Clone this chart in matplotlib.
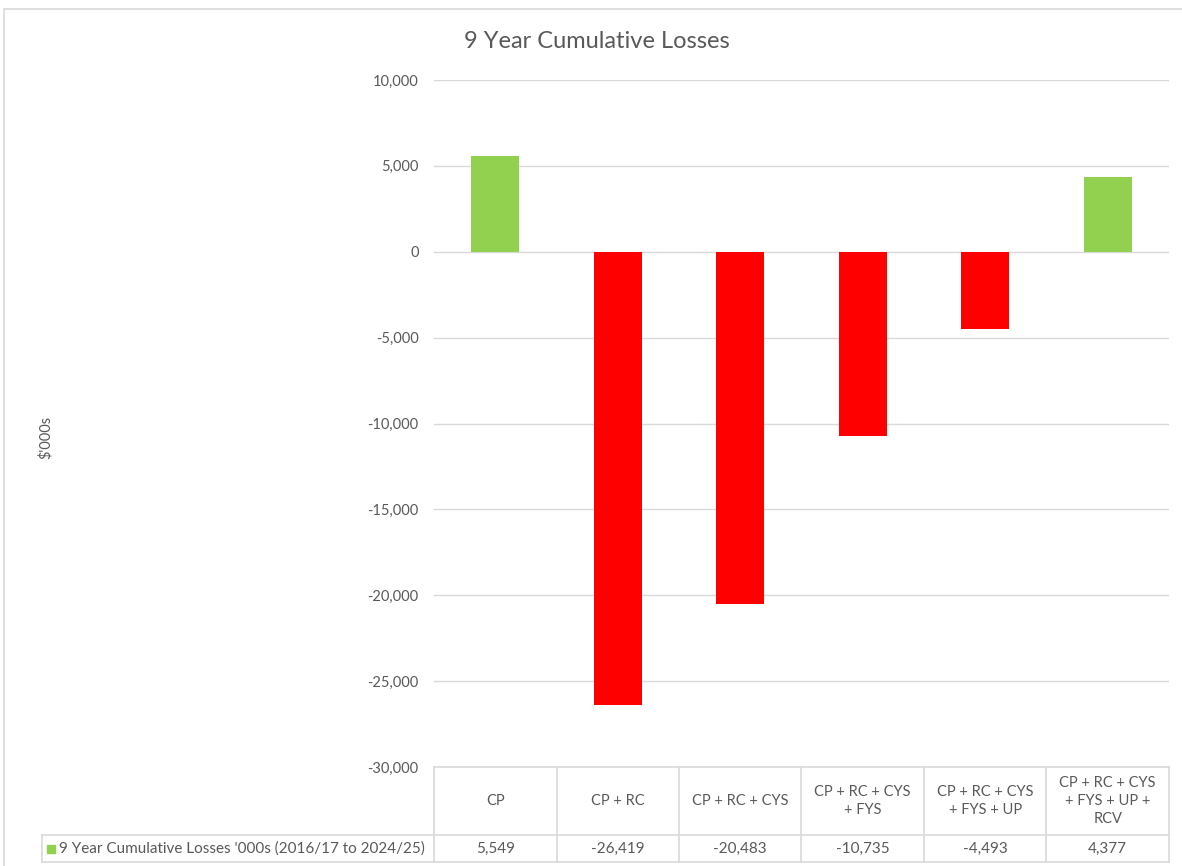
import matplotlib
matplotlib.use("Agg")
import matplotlib.pyplot as plt
import matplotlib.patches as patches
from matplotlib.lines import Line2D
from matplotlib.transforms import blended_transform_factory

# data
categories = ["CP", "CP + RC", "CP + RC + CYS", "CP + RC + CYS\n+ FYS",
              "CP + RC + CYS\n+ FYS + UP", "CP + RC + CYS\n+ FYS + UP +\nRCV"]
losses = [5549, -26419, -20483, -10735, -4493, 4377]
value_labels = ["5,549", "-26,419", "-20,483", "-10,735", "-4,493", "4,377"]
series_name = "9 Year Cumulative Losses '000s (2016/17 to 2024/25)"
yticks = [10000, 5000, 0, -5000, -10000, -15000, -20000, -25000, -30000]

plt.rcParams['font.family'] = ['Lato', 'DejaVu Sans']
txt = '#595959'
grid = '#d9d9d9'

W, H = 1182, 866
fig = plt.figure(figsize=(W/100, H/100), dpi=100)

def fx(px):
    return px / W

def fy(py):
    return 1 - py / H

# outer chart border (cropped on right/bottom)
fig.add_artist(patches.Rectangle((fx(4), fy(900)), fx(1300), fy(9) - fy(900),
                                 transform=fig.transFigure, fill=False,
                                 edgecolor='#d9d9d9', linewidth=1.2))

ax = fig.add_axes([fx(434), fy(767), fx(1169) - fx(434), fy(80) - fy(767)])

colors = ['#92D050' if v >= 0 else '#FF0000' for v in losses]
xs = list(range(len(categories)))
ax.bar(xs, losses, width=0.39, color=colors, zorder=3)

ax.set_xlim(-0.5, len(categories) - 0.5)
ax.set_ylim(-30000, 10000)
ax.set_yticks(yticks)
ax.set_yticklabels([f"{v:,}" for v in yticks])
ax.set_xticks([])
ax.tick_params(axis='y', length=0, pad=11, labelsize=10.5, labelcolor=txt)
for s in ax.spines.values():
    s.set_visible(False)
ax.grid(axis='y', color=grid, linewidth=1, zorder=0)

fig.text(fx(597), fy(42), "9 Year Cumulative Losses", ha='center', va='center',
         fontsize=17, color=txt)
fig.text(fx(46), fy(437), "$'000s", ha='center', va='center', rotation=90,
         fontsize=10.5, color=txt)

# data table below the plot
tr = blended_transform_factory(ax.transData, fig.transFigure)
y_top, y_mid, y_bot = fy(767), fy(835), fy(862)
x0, x1 = -0.5, len(categories) - 0.5
for yy in (y_top, y_mid, y_bot):
    fig.add_artist(Line2D([x0, x1], [yy, yy], transform=tr, color=grid, lw=1.2))
for i in range(len(categories) + 1):
    fig.add_artist(Line2D([x0 + i, x0 + i], [y_top, y_bot], transform=tr,
                          color=grid, lw=1.2))
# row label cell
for yy in (y_mid, y_bot):
    fig.add_artist(Line2D([fx(42), fx(434)], [yy, yy], transform=fig.transFigure,
                          color=grid, lw=1.2))
fig.add_artist(Line2D([fx(42), fx(42)], [y_mid, y_bot], transform=fig.transFigure,
                      color=grid, lw=1.2))

for i, (c, v) in enumerate(zip(categories, value_labels)):
    fig.text(i, (y_top + y_mid) / 2, c, transform=tr, ha='center', va='center',
             fontsize=10.5, color=txt, linespacing=1.35)
    fig.text(i, (y_mid + y_bot) / 2, v, transform=tr, ha='center', va='center',
             fontsize=11, color=txt)

fig.add_artist(patches.Rectangle((fx(47), fy(853)), fx(8), fy(845) - fy(853),
                                 transform=fig.transFigure, color='#92D050'))
fig.text(fx(59), (y_mid + y_bot) / 2, series_name, ha='left', va='center',
         fontsize=11, color=txt)

fig.savefig("out.png", dpi=100)
